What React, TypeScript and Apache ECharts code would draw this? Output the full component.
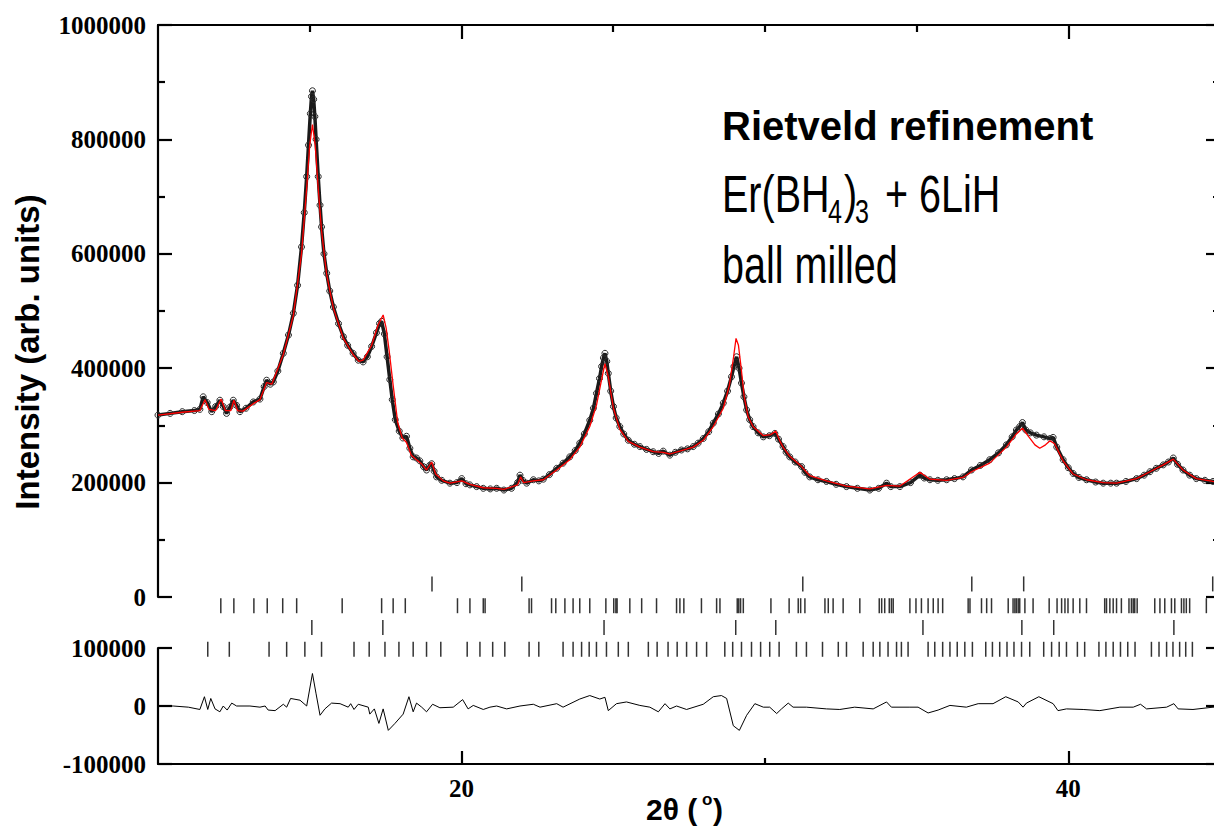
import React, { useEffect, useRef } from "react";
import * as echarts from "echarts";

// ---------- data ----------
const X_MIN = 10;
const X_MAX = 45;

const obsTheta = [
  10.0, 10.4, 10.8, 11.2, 11.38, 11.49, 11.62, 11.77, 11.9, 12.04, 12.15, 12.26, 12.37, 12.48, 12.59, 12.7, 12.9,
  13.14, 13.36, 13.5, 13.58, 13.7, 13.8, 13.95, 14.13, 14.3, 14.46, 14.6, 14.73, 14.82, 14.9, 14.96, 15.02, 15.06,
  15.09, 15.13, 15.17, 15.21, 15.28, 15.34, 15.39, 15.47, 15.56, 15.66, 15.78, 15.95, 16.11, 16.25, 16.43, 16.6,
  16.76, 16.9, 17.04, 17.2, 17.3, 17.37, 17.46, 17.55, 17.64, 17.72, 17.82, 17.95, 18.07, 18.19, 18.3, 18.41,
  18.52, 18.63, 18.75, 18.85, 18.95, 19.02, 19.1, 19.18, 19.35, 19.62, 19.85, 20.01, 20.15, 20.28, 20.5, 20.72,
  20.95, 21.16, 21.4, 21.65, 21.85, 21.93, 22.02, 22.15, 22.37, 22.55, 22.7, 22.9, 23.14, 23.35, 23.57, 23.75,
  23.9, 24.05, 24.23, 24.35, 24.45, 24.55, 24.62, 24.68, 24.73, 24.79, 24.84, 24.92, 25.01, 25.1, 25.22, 25.35,
  25.5, 25.7, 25.88, 26.1, 26.32, 26.5, 26.65, 26.87, 27.05, 27.25, 27.45, 27.64, 27.8, 27.97, 28.15, 28.3, 28.47,
  28.63, 28.77, 28.9, 28.98, 29.07, 29.15, 29.23, 29.31, 29.4, 29.5, 29.61, 29.78, 29.95, 30.15, 30.33, 30.45,
  30.6, 30.7, 30.82, 31.0, 31.21, 31.32, 31.48, 31.75, 32.03, 32.35, 32.69, 33.05, 33.46, 33.75, 34.01, 34.15,
  34.45, 34.8, 35.11, 35.25, 35.44, 35.7, 35.99, 36.25, 36.53, 36.81, 37.1, 37.41, 37.7, 37.96, 38.15, 38.29,
  38.4, 38.49, 38.6, 38.75, 38.95, 39.2, 39.4, 39.5, 39.62, 39.83, 40.0, 40.16, 40.35, 40.6, 40.9, 41.15, 41.4,
  41.59, 41.9, 42.25, 42.5, 42.69, 42.9, 43.13, 43.3, 43.46, 43.6, 43.78, 44.0, 44.22, 44.5, 44.77, 45.0,
];
const obsIntensity = [
  318000, 321000, 324000, 326000, 328000, 350000, 340000, 324000, 333000, 344000, 333000, 321000, 332000, 344000,
  335000, 324000, 330000, 341000, 346000, 368000, 379000, 372000, 376000, 395000, 426000, 458000, 496000, 545000,
  612000, 672000, 735000, 790000, 845000, 875000, 885000, 870000, 840000, 800000, 735000, 685000, 647000, 600000,
  566000, 535000, 507000, 478000, 455000, 440000, 426000, 414000, 411000, 420000, 438000, 462000, 478000, 482000,
  460000, 420000, 380000, 345000, 310000, 290000, 278000, 281000, 260000, 245000, 243000, 238000, 228000, 222000,
  230000, 233000, 220000, 210000, 204000, 199000, 200000, 207000, 198000, 196000, 193000, 190000, 189000, 190000,
  187000, 190000, 200000, 213000, 204000, 199000, 205000, 203000, 206000, 214000, 225000, 234000, 245000, 256000,
  269000, 285000, 309000, 330000, 356000, 382000, 403000, 418000, 426000, 412000, 391000, 360000, 333000, 313000,
  298000, 285000, 274000, 267000, 263000, 258000, 254000, 251000, 255000, 248000, 253000, 257000, 259000, 263000,
  269000, 277000, 289000, 304000, 320000, 339000, 360000, 385000, 403000, 420000, 400000, 374000, 350000, 327000,
  310000, 298000, 287000, 280000, 282000, 286000, 276000, 263000, 253000, 245000, 236000, 228000, 218000, 210000,
  205000, 202000, 197000, 193000, 190000, 187000, 190000, 199000, 193000, 193000, 200000, 213000, 208000, 205000,
  204000, 205000, 207000, 210000, 222000, 230000, 240000, 252000, 266000, 280000, 292000, 298000, 305000, 292000,
  287000, 283000, 280000, 277000, 279000, 262000, 240000, 226000, 216000, 209000, 205000, 201000, 199000, 199000,
  199000, 202000, 207000, 213000, 219000, 225000, 231000, 236000, 243000, 232000, 222000, 213000, 207000, 204000,
  202000, 201000,
];

const calcTheta = [
  10.0, 10.8, 11.38, 11.55, 11.68, 11.9, 12.08, 12.22, 12.4, 12.5, 12.62, 12.8, 13.14, 13.36, 13.58, 13.75, 14.13,
  14.46, 14.73, 14.9, 15.0, 15.09, 15.18, 15.28, 15.39, 15.56, 15.78, 16.11, 16.43, 16.62, 16.76, 17.04, 17.25,
  17.42, 17.52, 17.62, 17.75, 17.9, 18.05, 18.19, 18.35, 18.52, 18.7, 18.85, 19.02, 19.15, 19.4, 19.62, 20.01,
  20.28, 20.72, 21.16, 21.4, 21.85, 21.95, 22.05, 22.37, 22.7, 23.14, 23.57, 23.9, 24.23, 24.45, 24.6, 24.73,
  24.84, 25.01, 25.22, 25.5, 25.88, 26.32, 26.65, 26.87, 27.25, 27.64, 27.97, 28.3, 28.63, 28.83, 28.97, 29.05,
  29.13, 29.22, 29.32, 29.45, 29.61, 29.95, 30.2, 30.36, 30.5, 30.6, 30.82, 31.21, 31.48, 32.03, 32.69, 33.46,
  34.01, 34.45, 35.11, 35.44, 35.99, 36.53, 36.81, 37.41, 37.96, 38.29, 38.49, 38.7, 38.9, 39.06, 39.25, 39.4,
  39.55, 39.83, 40.16, 40.6, 41.15, 41.59, 42.25, 42.69, 43.13, 43.46, 43.78, 44.22, 44.77, 45.0,
];
const calcIntensity = [
  318000, 323000, 326000, 345000, 328000, 326000, 346000, 326000, 326000, 344000, 326000, 325000, 338000, 345000,
  375000, 372000, 424000, 492000, 600000, 715000, 790000, 826000, 790000, 715000, 640000, 563000, 505000, 452000,
  424000, 412000, 414000, 440000, 475000, 493000, 470000, 430000, 370000, 305000, 278000, 270000, 248000, 240000,
  232000, 222000, 236000, 215000, 203000, 199000, 203000, 197000, 191000, 190000, 188000, 196000, 210000, 200000,
  203000, 205000, 222000, 240000, 262000, 298000, 335000, 375000, 408000, 385000, 330000, 293000, 272000, 262000,
  254000, 253000, 250000, 256000, 262000, 274000, 298000, 330000, 370000, 420000, 452000, 440000, 400000, 350000,
  315000, 298000, 282000, 284000, 290000, 272000, 262000, 246000, 228000, 212000, 203000, 194000, 189000, 195000,
  194000, 218000, 206000, 204000, 209000, 219000, 234000, 262000, 285000, 295000, 280000, 266000, 260000, 266000,
  273000, 268000, 238000, 215000, 205000, 200000, 199000, 207000, 219000, 231000, 241000, 222000, 207000, 202000,
  201000,
];

const diffTheta = [
  10.0, 10.5, 11.0, 11.38, 11.53, 11.64, 11.74, 11.88, 12.04, 12.15, 12.28, 12.43, 12.59, 13.03, 13.36, 13.53,
  13.63, 13.86, 14.13, 14.24, 14.37, 14.68, 14.9, 15.09, 15.21, 15.34, 15.5, 15.72, 16.0, 16.27, 16.35, 16.46,
  16.6, 16.93, 16.98, 17.13, 17.28, 17.42, 17.59, 17.81, 18.08, 18.27, 18.41, 18.52, 18.69, 18.85, 19.05, 19.29,
  19.73, 20.04, 20.22, 20.39, 20.72, 20.94, 21.16, 21.49, 21.93, 22.37, 22.59, 23.14, 23.35, 23.9, 24.23, 24.56,
  24.73, 24.84, 25.11, 25.44, 25.88, 26.21, 26.49, 26.71, 26.87, 27.09, 27.42, 27.97, 28.3, 28.57, 28.74, 28.96,
  29.16, 29.4, 29.67, 29.95, 30.16, 30.39, 30.55, 30.77, 30.93, 31.37, 32.03, 32.47, 32.96, 33.57, 34.01, 34.17,
  34.78, 35.05, 35.38, 35.71, 36.1, 36.64, 37.03, 37.52, 37.94, 38.35, 38.51, 38.62, 39.03, 39.5, 39.66, 39.94,
  40.49, 41.04, 41.7, 42.14, 42.38, 42.58, 43.24, 43.48, 43.62, 44.11, 44.77, 45.0,
];
const diffValue = [
  0, 0, -2000, -6000, 16000, -6000, 13000, -5000, -10000, 0, -7000, 5000, 0, 0, -2000, 0, -7000, -8000, 3000, -2000,
  13000, 10000, 0, 56000, 21000, -16000, -5000, 5000, 4000, -2000, 4000, -6000, 3000, -2000, -14000, -5000, -30000,
  -5000, -42000, -30000, -14000, 16000, -10000, 5000, -2000, -10000, 3000, -3000, -2000, 11000, -5000, 1000, -6000,
  -2000, 0, -5000, 0, 3000, -2000, 4000, -2000, 12000, 18000, 12000, 15000, -8000, 4000, 7000, 1000, -2000, -10000,
  4000, -5000, 0, -6000, 3000, 16000, 18000, 13000, -34000, -42000, -16000, 4000, -2000, -2000, -13000, -5000, 5000,
  -2000, -2000, -5000, -6000, -2000, -5000, 7000, -2000, -2000, -2000, -12000, -7000, 1000, -2000, 4000, 4000, 16000,
  7000, -2000, 5000, 16000, 4000, -8000, -5000, -6000, -8000, -2000, -2000, 3000, -5000, -2000, 4000, -5000, -6000,
  -2000, -2000,
];

// Bragg reflection positions (2θ), four phases, top row first
const braggRow1 = [19.03, 21.99, 31.25, 36.82, 38.53, 44.76];
const braggRow2 = [
  12.07, 12.5, 13.16, 13.6, 14.11, 14.57, 16.07, 17.37, 17.75, 18.15, 19.87, 20.28, 20.72, 20.78, 22.23, 22.31,
  22.97, 23.11, 23.41, 23.68, 23.9, 24.23, 24.76, 25.02, 25.09, 25.13, 25.55, 25.94, 26.43, 27.09, 27.2, 27.33,
  27.91, 28.41, 28.52, 29.09, 29.14, 29.2, 29.29, 30.2, 30.8, 31.1, 31.18, 31.32, 31.98, 32.09, 32.25, 32.58,
  33.13, 33.77, 33.85, 33.95, 34.1, 34.17, 34.23, 34.78, 34.98, 35.16, 35.38, 35.55, 35.71, 35.86, 36.7, 36.76,
  37.14, 37.31, 37.47, 38.02, 38.18, 38.24, 38.29, 38.35, 38.4, 38.57, 38.84, 39.37, 39.63, 39.78, 39.89, 39.99,
  40.16, 40.38, 40.6, 41.2, 41.26, 41.37, 41.48, 41.59, 41.75, 42.0, 42.08, 42.14, 42.19, 42.27, 42.85, 43.02,
  43.18, 43.4, 43.51, 43.73, 43.81, 43.89, 44.0, 44.55,
];
const braggRow3 = [15.07, 17.41, 24.7, 29.04, 30.36, 35.21, 38.47, 39.52, 43.48];
const braggRow4 = [
  11.64, 12.35, 13.66, 14.24, 14.84, 15.39, 16.46, 16.96, 17.48, 17.94, 18.41, 18.85, 19.32, 20.19, 20.61, 21.03,
  21.43, 22.23, 22.55, 23.35, 23.68, 23.96, 24.21, 24.45, 24.78, 25.17, 25.5, 26.16, 26.45, 26.81, 27.11, 27.42,
  27.75, 28.08, 28.68, 28.94, 29.23, 29.56, 29.86, 30.16, 30.47, 31.04, 31.37, 31.9, 32.42, 32.69, 33.24, 33.57,
  33.79, 34.06, 34.34, 34.5, 34.72, 35.38, 35.6, 35.86, 36.1, 36.34, 36.59, 36.84, 37.28, 37.5, 37.74, 37.98,
  38.21, 38.46, 38.73, 39.19, 39.45, 39.7, 39.94, 40.3, 40.54, 41.01, 41.24, 41.48, 41.72, 41.96, 42.2, 42.74,
  42.99, 43.24, 43.45, 43.67, 43.87, 44.09,
];

const xMajorTicks = [20, 40];
const xTopMinorTicks = [15, 25, 30, 35];
const xBottomMinorTicks = [30];

// ---------- styling ----------
const SERIF = "'Liberation Serif', 'Times New Roman', serif";
const SANS = "'Liberation Sans', Arial, sans-serif";
const BLACK = "#000";

const pairs = (xs: number[], ys: number[]) => xs.map((x, i) => [x, ys[i]]);

export default function App() {
  const ref = useRef<HTMLDivElement>(null);

  useEffect(() => {
    if (!ref.current) return;
    const chart = echarts.init(ref.current, null, { renderer: "svg" });

    const lineStyle = { color: BLACK, width: 2.2 };
    const tickLabel = {
      fontFamily: SERIF,
      fontWeight: "bold" as const,
      fontSize: 25,
      color: BLACK,
      formatter: (v: number) => String(v),
    };
    const gridBase = { left: 158, right: -6, containLabel: false, outerBoundsMode: "none" };

    const braggSeries = (row: number[], level: number) => ({
      type: "scatter",
      xAxisIndex: 4,
      yAxisIndex: 4,
      symbol: "rect",
      symbolSize: [1.5, 15],
      itemStyle: { color: BLACK },
      silent: true,
      data: row.map((t) => [t, level]),
      z: 4,
    });

    const option: any = {
      animation: false,
      backgroundColor: "#fff",
      grid: [
        { ...gridBase, top: 25, height: 572 },
        { ...gridBase, top: 648, height: 116 },
        { ...gridBase, top: 573, height: 87.2 },
      ],
      xAxis: [
        {
          gridIndex: 0, type: "value", position: "top", min: X_MIN, max: X_MAX,
          axisLine: { show: true, onZero: false, lineStyle },
          axisTick: { show: true, inside: true, length: 14, customValues: xMajorTicks, lineStyle },
          axisLabel: { show: false },
          splitLine: { show: false },
        },
        {
          gridIndex: 0, type: "value", position: "top", min: X_MIN, max: X_MAX,
          axisLine: { show: false, onZero: false },
          axisTick: { show: true, inside: true, length: 7, customValues: xTopMinorTicks, lineStyle },
          axisLabel: { show: false },
          splitLine: { show: false },
        },
        {
          gridIndex: 1, type: "value", position: "bottom", min: X_MIN, max: X_MAX,
          axisLine: { show: true, onZero: false, lineStyle },
          axisTick: { show: true, inside: true, length: 13, customValues: xMajorTicks, lineStyle },
          axisLabel: { show: true, margin: 12, customValues: xMajorTicks, ...tickLabel },
          splitLine: { show: false },
        },
        {
          gridIndex: 1, type: "value", position: "bottom", min: X_MIN, max: X_MAX,
          axisLine: { show: false, onZero: false },
          axisTick: { show: true, inside: true, length: 6, customValues: xBottomMinorTicks, lineStyle },
          axisLabel: { show: false },
          splitLine: { show: false },
        },
        { gridIndex: 2, type: "value", show: false, min: X_MIN, max: X_MAX },
      ],
      yAxis: [
        {
          gridIndex: 0, type: "value", position: "left", min: 0, max: 1000000, interval: 200000,
          axisLine: { show: true, onZero: false, lineStyle },
          axisTick: { show: true, inside: true, length: 14, lineStyle },
          minorTick: { show: true, splitNumber: 2, length: 7, lineStyle },
          axisLabel: { show: true, margin: 12, ...tickLabel },
          splitLine: { show: false },
          minorSplitLine: { show: false },
        },
        {
          gridIndex: 0, type: "value", position: "right", min: 0, max: 1000000, interval: 200000,
          axisLine: { show: true, onZero: false, lineStyle },
          axisTick: { show: true, inside: true, length: 14, lineStyle },
          minorTick: { show: true, splitNumber: 2, length: 7, lineStyle },
          axisLabel: { show: false },
          splitLine: { show: false },
        },
        {
          gridIndex: 1, type: "value", position: "left", min: -100000, max: 100000, interval: 100000,
          axisLine: { show: true, onZero: false, lineStyle },
          axisTick: { show: true, inside: true, length: 14, lineStyle },
          axisLabel: { show: true, margin: 12, ...tickLabel },
          splitLine: { show: false },
        },
        {
          gridIndex: 1, type: "value", position: "right", min: -100000, max: 100000, interval: 100000,
          axisLine: { show: true, onZero: false, lineStyle },
          axisTick: { show: true, inside: true, length: 14, lineStyle },
          axisLabel: { show: false },
          splitLine: { show: false },
        },
        { gridIndex: 2, type: "value", show: false, min: 0, max: 4 },
      ],
      series: [
        {
          name: "observed",
          type: "line",
          xAxisIndex: 0,
          yAxisIndex: 0,
          data: pairs(obsTheta, obsIntensity),
          symbol: "circle",
          symbolSize: 6,
          showSymbol: true,
          itemStyle: { color: "rgba(0,0,0,0)", borderColor: "#2a2a2a", borderWidth: 1 },
          lineStyle: { color: "#1a1a1a", width: 3.5 },
          silent: true,
          z: 2,
        },
        {
          name: "calculated",
          type: "line",
          xAxisIndex: 0,
          yAxisIndex: 0,
          data: pairs(calcTheta, calcIntensity),
          showSymbol: false,
          symbol: "none",
          lineStyle: { color: "#ff0000", width: 1.3 },
          silent: true,
          z: 3,
        },
        {
          name: "difference",
          type: "line",
          xAxisIndex: 2,
          yAxisIndex: 2,
          data: pairs(diffTheta, diffValue),
          showSymbol: false,
          symbol: "none",
          lineStyle: { color: BLACK, width: 1 },
          silent: true,
          z: 3,
        },
        braggSeries(braggRow1, 3.5),
        braggSeries(braggRow2, 2.5),
        braggSeries(braggRow3, 1.5),
        braggSeries(braggRow4, 0.5),
      ],
      graphic: {
        elements: [
          {
            type: "text", x: 27, y: 352, rotation: Math.PI / 2, silent: true,
            style: { text: "Intensity (arb. units)", fontFamily: SANS, fontWeight: "bold", fontSize: 33, fill: BLACK, align: "center", verticalAlign: "middle" },
          },
          {
            type: "text", x: 646, y: 809.5, silent: true,
            style: { text: "2θ (", fontFamily: SANS, fontWeight: "bold", fontSize: 30, fill: BLACK, align: "left", verticalAlign: "middle" },
          },
          {
            type: "text", x: 702, y: 799, silent: true,
            style: { text: "o", fontFamily: SANS, fontWeight: "bold", fontSize: 17, fill: BLACK, align: "left", verticalAlign: "middle" },
          },
          {
            type: "text", x: 713, y: 809.5, silent: true,
            style: { text: ")", fontFamily: SANS, fontWeight: "bold", fontSize: 30, fill: BLACK, align: "left", verticalAlign: "middle" },
          },
          {
            type: "text", x: 722, y: 126, silent: true,
            style: { text: "Rietveld refinement", fontFamily: SANS, fontWeight: "bold", fontSize: 40, fill: BLACK, align: "left", verticalAlign: "middle" },
          },
          {
            type: "text", x: 722, y: 193.5, scaleX: 0.76, silent: true,
            style: { text: "Er(BH", fontFamily: SANS, fontSize: 52, fill: BLACK, align: "left", verticalAlign: "middle" },
          },
          {
            type: "text", x: 828, y: 211, scaleX: 0.76, silent: true,
            style: { text: "4", fontFamily: SANS, fontSize: 33, fill: BLACK, align: "left", verticalAlign: "middle" },
          },
          {
            type: "text", x: 844, y: 193.5, scaleX: 0.76, silent: true,
            style: { text: ")", fontFamily: SANS, fontSize: 52, fill: BLACK, align: "left", verticalAlign: "middle" },
          },
          {
            type: "text", x: 855, y: 211, scaleX: 0.76, silent: true,
            style: { text: "3", fontFamily: SANS, fontSize: 33, fill: BLACK, align: "left", verticalAlign: "middle" },
          },
          {
            type: "text", x: 885, y: 193.5, scaleX: 0.76, silent: true,
            style: { text: "+ 6LiH", fontFamily: SANS, fontSize: 52, fill: BLACK, align: "left", verticalAlign: "middle" },
          },
          {
            type: "text", x: 722, y: 264.5, scaleX: 0.76, silent: true,
            style: { text: "ball milled", fontFamily: SANS, fontSize: 52, fill: BLACK, align: "left", verticalAlign: "middle" },
          },
        ],
      },
    };

    chart.setOption(option);
    return () => chart.dispose();
  }, []);

  return (
    <div
      ref={ref}
      style={{ position: "fixed", left: 0, top: 0, width: 1214, height: 830, background: "#fff" }}
    />
  );
}
